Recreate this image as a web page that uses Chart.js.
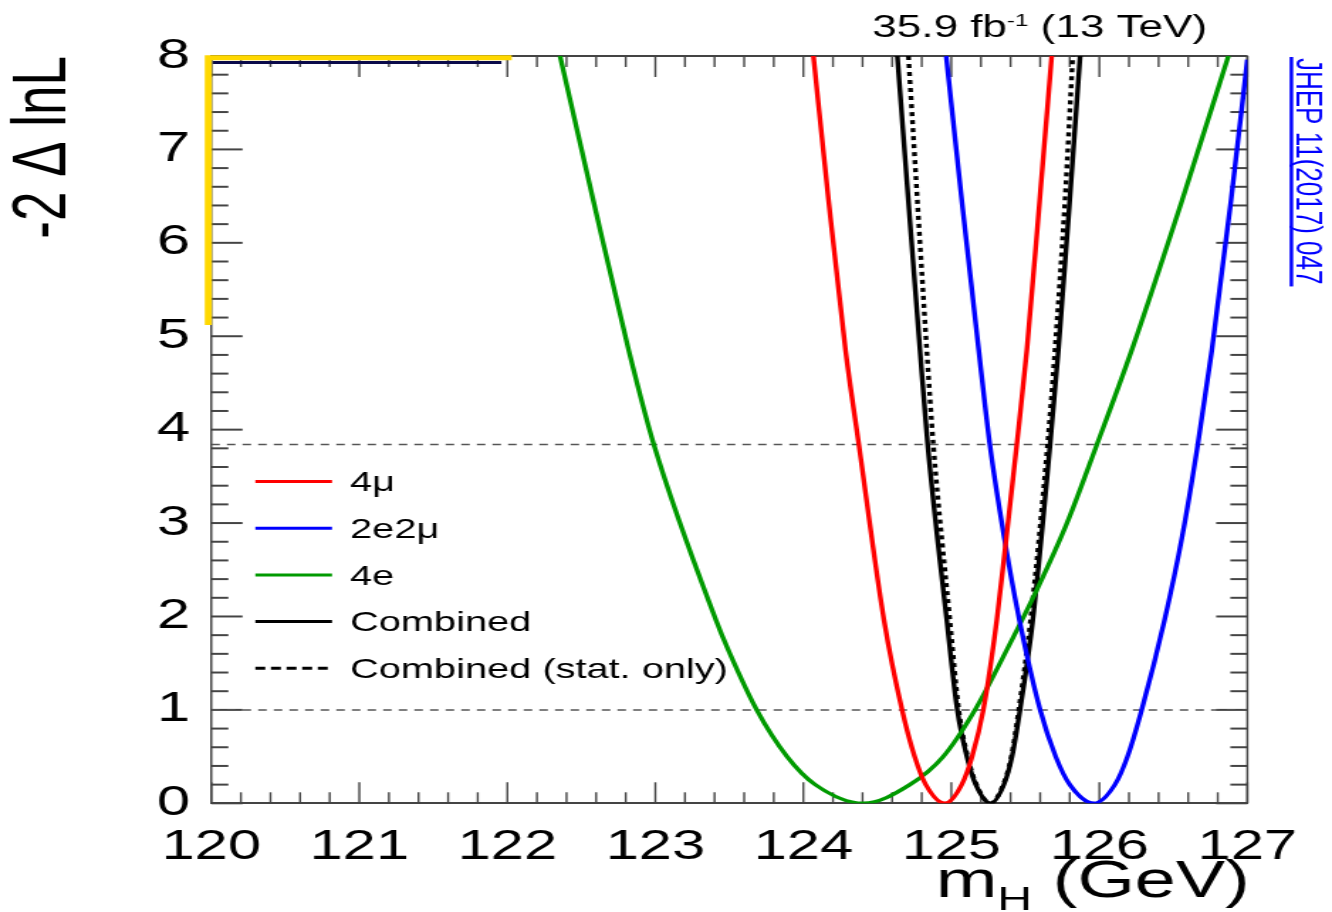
<!DOCTYPE html>
<html>
<head>
<meta charset="utf-8">
<script src="https://cdn.jsdelivr.net/npm/chart.js@4.4.0/dist/chart.umd.min.js"></script>
<style>
  html, body { margin: 0; padding: 0; background: #fff; }
</style>
</head>
<body>
<!-- the original figure is stretched sideways, so the canvas is drawn narrow and shown wide -->
<canvas id="chart" width="938" height="912" style="display:block;width:1332px;height:912px"></canvas>
<script>
// axis ranges and tick labels
let xMin = 120
let xMax = 127
let yMin = 0
let yMax = 8
let xTickLabels = [120, 121, 122, 123, 124, 125, 126, 127]
let yTickLabels = [0, 1, 2, 3, 4, 5, 6, 7, 8]

// 4mu
let fourMuMass = [124.068, 124.17, 124.285, 124.375, 124.545, 124.667, 124.752, 124.827, 124.957, 125.07, 125.14, 125.216, 125.307, 125.37, 125.442, 125.51, 125.597, 125.678]
let fourMuNll  = [8, 6.46, 4.85, 3.84, 1.96, 1.0, 0.5, 0.2, 0, 0.2, 0.5, 1.0, 1.96, 2.82, 3.84, 4.85, 6.46, 8]

// 2e2mu
let twoETwoMuMass = [124.965, 125.07, 125.185, 125.26, 125.36, 125.46, 125.6, 125.705, 125.80, 125.964, 126.105, 126.19, 126.286, 126.44, 126.56, 126.665, 126.76, 126.89, 127.0]
let twoETwoMuNll  = [8, 6.46, 4.85, 3.84, 2.82, 1.96, 1.0, 0.5, 0.2, 0, 0.2, 0.5, 1.0, 1.96, 2.86, 3.84, 4.85, 6.46, 7.96]

// 4e
let fourEMass = [122.356, 122.58, 122.82, 122.99, 123.41, 123.493, 123.685, 123.89, 124.08, 124.405, 124.72, 124.945, 125.16, 125.374, 125.577, 125.78, 125.982, 126.219, 126.56, 126.872]
let fourENll  = [8.0, 6.46, 4.85, 3.84, 1.96, 1.641, 1.0, 0.5, 0.2, 0, 0.2, 0.5, 1.0, 1.641, 2.284, 2.995, 3.835, 4.853, 6.46, 8.0]

// combined
let combinedMass = [124.635, 124.709, 124.788, 124.84, 124.969, 125.04, 125.105, 125.165, 125.266, 125.355, 125.41, 125.464, 125.55, 125.667, 125.723, 125.8, 125.87]
let combinedNll  = [8, 6.46, 4.85, 3.84, 1.96, 1.0, 0.5, 0.2, 0, 0.2, 0.5, 1.0, 1.96, 3.84, 4.85, 6.46, 8]

// combined, stat. only
let statOnlyMass = [124.71, 124.77, 124.834, 124.878, 124.99, 125.05, 125.11, 125.17, 125.265, 125.35, 125.405, 125.455, 125.535, 125.65, 125.70, 125.768, 125.82]
let statOnlyNll  = [8, 6.46, 4.85, 3.84, 1.96, 1.0, 0.5, 0.2, 0, 0.2, 0.5, 1.0, 1.96, 3.84, 4.85, 6.46, 8]

// 68% and 95% CL levels
let clLevels = [1, 3.84]

// yellow highlight box left over in the top left corner of the figure
let markBoxX = [122.03, 119.98, 119.98]
let markBoxY = [7.98, 7.98, 5.12]
let markLineX = [120.01, 121.96]
let markLineY = [7.93, 7.93]

const FONT = "'Liberation Sans', Arial, Helvetica, sans-serif"
const axisColor = '#444'

function toPoints(xs, ys){
    let points = []
    for (let i = 0; i < xs.length; i++){
        points.push({x: xs[i], y: ys[i]})
    }
    return points
}

function curve(label, xs, ys, color, dash){
    return {
        label: label,
        data: toPoints(xs, ys),
        borderColor: color,
        borderWidth: 3.4,
        borderDash: dash || [],
        cubicInterpolationMode: 'monotone',
        pointRadius: 0,
        inLegend: true
    }
}

let datasets = [
    curve('4μ', fourMuMass, fourMuNll, '#ff0000'),
    curve('2e2μ', twoETwoMuMass, twoETwoMuNll, '#0000ff'),
    curve('4e', fourEMass, fourENll, '#009a00'),
    curve('Combined', combinedMass, combinedNll, '#000000'),
    curve('Combined (stat. only)', statOnlyMass, statOnlyNll, '#000000', [4, 4])
]

for (let i = 0; i < clLevels.length; i++){
    datasets.push({
        label: 'level ' + clLevels[i],
        data: toPoints([xMin, xMax], [clLevels[i], clLevels[i]]),
        borderColor: '#555',
        borderWidth: 1.5,
        borderDash: [6, 5],
        pointRadius: 0
    })
}

datasets.push({
    label: 'mark',
    data: toPoints(markBoxX, markBoxY),
    borderColor: '#ffd800',
    borderWidth: 5,
    pointRadius: 0,
    clip: false
})
datasets.push({
    label: 'mark line',
    data: toPoints(markLineX, markLineY),
    borderColor: '#0a0a4a',
    borderWidth: 3,
    pointRadius: 0,
    clip: false
})

function strokeLine(ctx, x1, y1, x2, y2){
    ctx.beginPath()
    ctx.moveTo(x1, y1)
    ctx.lineTo(x2, y2)
    ctx.stroke()
}

// ROOT style frame: closed box with inward ticks on all four sides
const frameTicks = {
    id: 'frameTicks',
    beforeDatasetsDraw(chart){
        let ctx = chart.ctx
        let a = chart.chartArea
        let xs = chart.scales.x
        let ys = chart.scales.y
        ctx.save()
        ctx.strokeStyle = axisColor
        ctx.lineWidth = 2
        strokeLine(ctx, a.left, a.top, a.right, a.top)
        ctx.lineWidth = 1.5
        strokeLine(ctx, a.right, a.top, a.right, a.bottom)

        ctx.lineWidth = 1.4
        for (let i = 0; i <= (xMax - xMin) * 5; i++){
            let px = xs.getPixelForValue(xMin + i * 0.2)
            let len = i % 5 === 0 ? 21 : 11
            strokeLine(ctx, px, a.bottom, px, a.bottom - len)
            strokeLine(ctx, px, a.top, px, a.top + len)
        }
        ctx.lineWidth = 2
        for (let i = 0; i <= (yMax - yMin) * 5; i++){
            let py = ys.getPixelForValue(yMin + i * 0.2)
            let len = i % 5 === 0 ? 22 : 12
            strokeLine(ctx, a.left, py, a.left + len, py)
            strokeLine(ctx, a.right, py, a.right - len, py)
        }
        ctx.restore()
    }
}

const extraText = {
    id: 'extraText',
    afterDraw(chart){
        let ctx = chart.ctx
        let a = chart.chartArea
        ctx.save()
        ctx.fillStyle = '#000'
        ctx.textBaseline = 'alphabetic'
        ctx.textAlign = 'left'

        // luminosity label, laid out from the right
        let right = a.right - 28.4
        let base = a.top - 19
        ctx.font = '31px ' + FONT
        let w3 = ctx.measureText(' (13 TeV)').width
        ctx.font = '17px ' + FONT
        let w2 = ctx.measureText('-1').width
        ctx.font = '31px ' + FONT
        let w1 = ctx.measureText('35.9 fb').width
        let x0 = right - w1 - w2 - w3
        ctx.fillText('35.9 fb', x0, base)
        ctx.fillText(' (13 TeV)', x0 + w1 + w2, base)
        ctx.font = '17px ' + FONT
        ctx.fillText('-1', x0 + w1, base - 11)

        // x axis title with subscript
        let xr = a.right + 1.6
        let xb = a.bottom + 94
        ctx.font = '52px ' + FONT
        let t3 = ctx.measureText(' (GeV)').width
        let t1 = ctx.measureText('m').width
        ctx.font = '34px ' + FONT
        let t2 = ctx.measureText('H').width
        let xs0 = xr - t1 - t2 - t3
        ctx.font = '52px ' + FONT
        ctx.fillText('m', xs0, xb)
        ctx.fillText(' (GeV)', xs0 + t1 + t2, xb)
        ctx.font = '34px ' + FONT
        ctx.fillText('H', xs0 + t1, xb + 13)

        // legend
        let rowY = a.top + 425.5
        let entries = chart.data.datasets.filter(d => d.inLegend)
        ctx.font = '28px ' + FONT
        ctx.textBaseline = 'middle'
        for (let i = 0; i < entries.length; i++){
            let y = rowY + i * 46.7
            ctx.strokeStyle = entries[i].borderColor
            ctx.lineWidth = 3
            ctx.setLineDash(entries[i].borderDash.length ? [7, 4] : [])
            strokeLine(ctx, a.left + 31, y, a.left + 85, y)
            ctx.setLineDash([])
            ctx.fillText(entries[i].label, a.left + 97.7, y + 2)
        }

        // journal reference, rotated
        ctx.fillStyle = '#0000ff'
        ctx.strokeStyle = '#0000ff'
        ctx.font = '26px ' + FONT
        ctx.textBaseline = 'alphabetic'
        let ref = 'JHEP 11(2017) 047'
        let len = ctx.measureText(ref).width
        ctx.save()
        ctx.translate(a.right + 34.3, a.top + 2)
        ctx.rotate(Math.PI / 2)
        ctx.fillText(ref, 0, 0)
        ctx.restore()
        ctx.lineWidth = 2.5
        strokeLine(ctx, a.right + 31, a.top + 1, a.right + 31, a.top + 4 + len)
        ctx.restore()
    }
}

let ctx = document.getElementById('chart').getContext('2d')
let chart = new Chart(ctx, {
    type: 'line',
    data: { datasets: datasets },
    options: {
        responsive: false,
        animation: false,
        devicePixelRatio: 1,
        layout: { padding: { left: 0, top: 56, right: 59.6, bottom: 0 } },
        plugins: {
            legend: { display: false },
            tooltip: { enabled: false }
        },
        scales: {
            x: {
                type: 'linear',
                min: xMin,
                max: xMax,
                grid: { display: false },
                border: { display: true, color: axisColor, width: 2 },
                afterBuildTicks(scale){
                    scale.ticks = xTickLabels.map(v => ({ value: v }))
                },
                ticks: {
                    autoSkip: false,
                    maxRotation: 0,
                    padding: 11,
                    color: '#000',
                    font: { family: FONT, size: 42 }
                },
                afterFit(scale){ scale.height = 108.7 }
            },
            y: {
                type: 'linear',
                min: yMin,
                max: yMax,
                grid: { display: false },
                border: { display: true, color: axisColor, width: 1.5 },
                afterBuildTicks(scale){
                    scale.ticks = yTickLabels.map(v => ({ value: v }))
                },
                ticks: {
                    padding: 7,
                    color: '#000',
                    font: { family: FONT, size: 42 }
                },
                title: {
                    display: true,
                    text: '-2 Δ lnL',
                    align: 'end',
                    color: '#000',
                    padding: 0,
                    font: { family: FONT, size: 53 }
                },
                afterFit(scale){ scale.width = 148.8 }
            }
        }
    },
    plugins: [frameTicks, extraText]
})
</script>
</body>
</html>
